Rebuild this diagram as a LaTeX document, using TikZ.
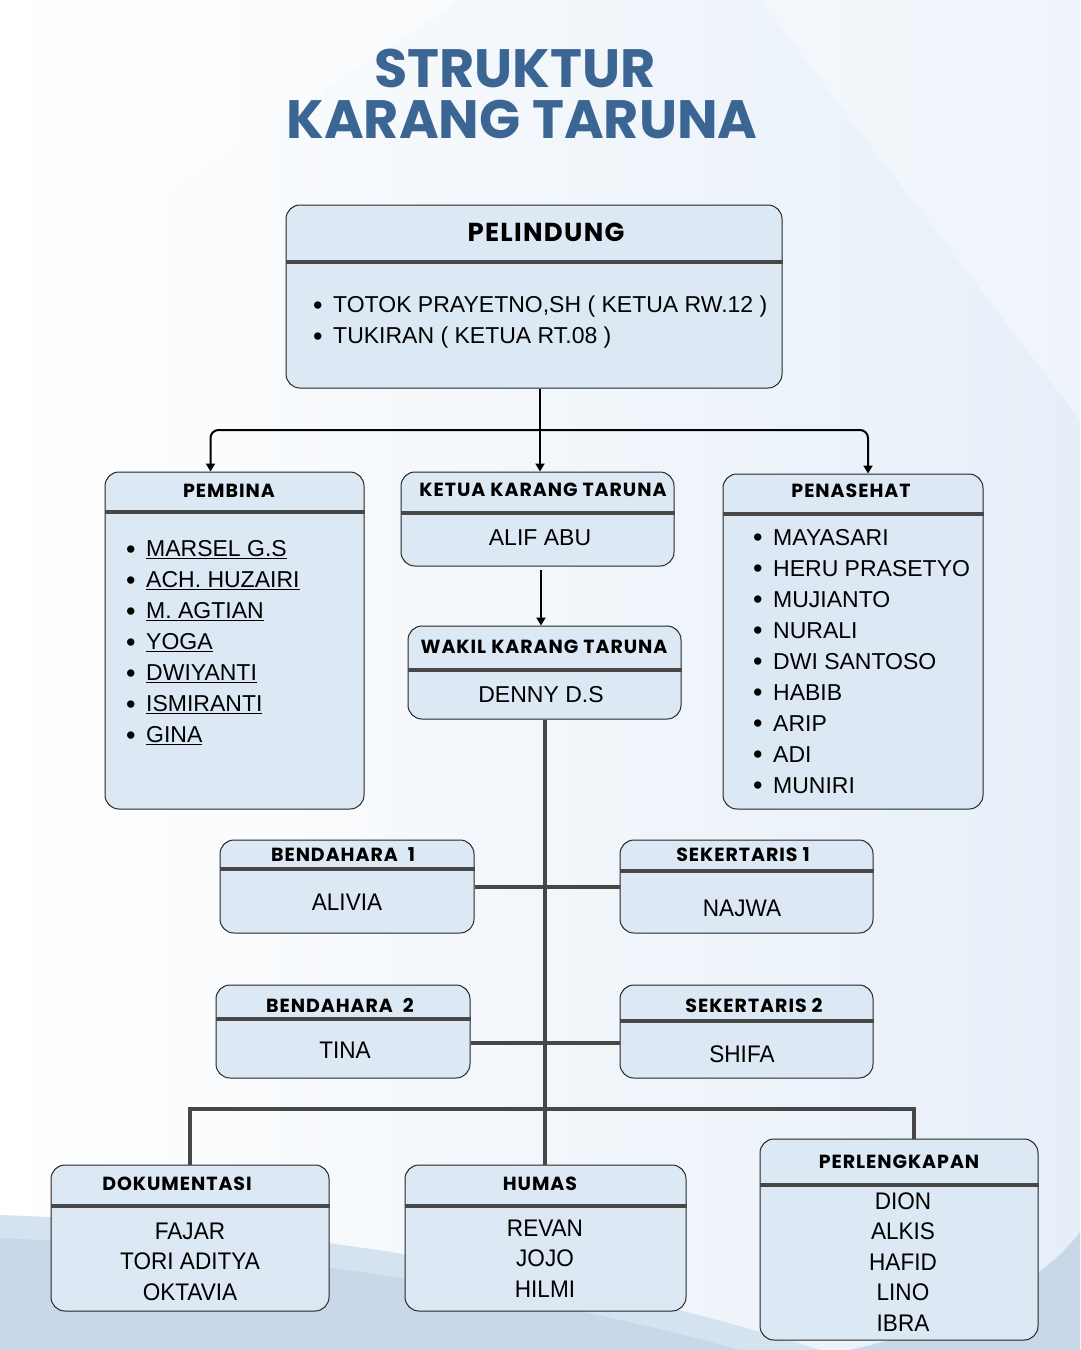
\documentclass[tikz,border=0pt]{standalone}
\usepackage{fontspec}
\setmainfont{Liberation Sans}
\newfontfamily\headfont{Poppins}[LetterSpace=5]
\newfontfamily\titlefont{Poppins}
\newfontfamily\narrowfont{Liberation Sans}[FakeStretch=0.94]
\usetikzlibrary{arrows.meta,positioning,calc}
\definecolor{titleblue}{HTML}{3B6592}
\definecolor{boxfill}{HTML}{DCE8F4}
\definecolor{lineg}{HTML}{474747}
\definecolor{bgblue}{HTML}{E6EFF8}
\definecolor{waveblue}{HTML}{C8D8E8}
\tikzset{
    orgbox/.style={draw=black!85,fill=boxfill,rounded corners=14pt,line width=1pt,inner sep=0pt},
    bigheadtext/.style={font=\headfont\bfseries\fontsize{26}{28}\selectfont,inner sep=0pt},
    headtext/.style={font=\headfont\bfseries\fontsize{19}{21}\selectfont,inner sep=0pt},
    nametext/.style={font=\fontsize{23}{31}\selectfont,inner sep=0pt},
    lownametext/.style={font=\narrowfont\fontsize{24}{30.5}\selectfont,inner sep=0pt,align=center},
    listtext/.style={nametext,align=left,anchor=west},
    sepline/.style={lineg,line width=4pt},
    trunk/.style={lineg,line width=4pt},
    arr/.style={-{Triangle[length=8pt,width=9pt]},line width=2pt},
    titletext/.style={font=\titlefont\bfseries\fontsize{54}{60}\selectfont,text=titleblue,inner sep=0pt},
}
\newcommand{\itm}[1]{\makebox[20pt][l]{\raisebox{-1.6pt}{\fontsize{27}{27}\selectfont\textbullet}}#1}

\begin{document}
\begin{tikzpicture}[x=1pt,y=-1pt]
    \useasboundingbox (0,0) rectangle (1080,1350);
    % background
    \shade[left color=white,right color=bgblue] (0,0) rectangle (1080,1350);
    \fill[white,opacity=.45] (0,0) -- (460,0) -- (0,300) -- cycle;
    \fill[white,opacity=.35] (1080,0) -- (760,0) -- (1080,420) -- cycle;
    \fill[white,opacity=.3] (0,560) -- (380,820) -- (0,1100) -- cycle;
    \fill[waveblue!55!bgblue] (0,1215) .. controls (300,1225) and (600,1280) .. (820,1350) -- (0,1350) -- cycle;
    \fill[waveblue] (0,1238) .. controls (280,1250) and (540,1295) .. (740,1350) -- (0,1350) -- cycle;
    \fill[waveblue] (850,1350) .. controls (960,1325) and (1040,1285) .. (1080,1232) -- (1080,1350) -- cycle;

    % title
    \node[titletext] (title1) at (515,68) {STRUKTUR};
    \node[titletext] (title2) at (522,120) {KARANG TARUNA};

    % boxes
    \node[orgbox,minimum width=496pt,minimum height=183pt] (pelindung) at (534,296.5) {};
    \node[orgbox,minimum width=259pt,minimum height=337pt] (pembina) at (234.5,640.5) {};
    \node[orgbox,minimum width=273pt,minimum height=94pt] (ketua) at (537.5,519) {};
    \node[orgbox,minimum width=260pt,minimum height=335pt] (penasehat) at (853,641.5) {};
    \node[orgbox,minimum width=273pt,minimum height=93pt] (wakil) at (544.5,672.5) {};
    \node[orgbox,minimum width=254pt,minimum height=93pt] (bend1) at (347,886.5) {};
    \node[orgbox,minimum width=253pt,minimum height=93pt] (sek1) at (746.5,886.5) {};
    \node[orgbox,minimum width=254pt,minimum height=93pt] (bend2) at (343,1031.5) {};
    \node[orgbox,minimum width=253pt,minimum height=93pt] (sek2) at (746.5,1031.5) {};
    \node[orgbox,minimum width=278pt,minimum height=146pt] (doku) at (190,1238) {};
    \node[orgbox,minimum width=281pt,minimum height=146pt] (humas) at (545.5,1238) {};
    \node[orgbox,minimum width=278pt,minimum height=201pt] (perl) at (899,1239.5) {};

    % separators
    \foreach \b/\y in {pelindung/262,pembina/512,ketua/513,penasehat/514,wakil/670,
        bend1/869,sek1/871,bend2/1019,sek2/1021,doku/1206,humas/1206,perl/1185}{
        \draw[sepline] (\b.west |- 0,\y) -- (\b.east |- 0,\y);
    }

    % headers
    \node[bigheadtext] (pelindung-t) at (546,232) {PELINDUNG};
    \node[headtext] (pembina-t) at (229,491) {PEMBINA};
    \node[headtext] (ketua-t) at (543,490) {KETUA KARANG TARUNA};
    \node[headtext] (penasehat-t) at (851,491) {PENASEHAT};
    \node[headtext] (wakil-t) at (544,647) {WAKIL KARANG TARUNA};
    \node[headtext] (bend1-t) at (343,855) {BENDAHARA\ \ 1};
    \node[headtext] (sek1-t) at (743,855) {SEKERTARIS 1};
    \node[headtext] (bend2-t) at (340,1005) {BENDAHARA\ \ 2};
    \node[headtext] (sek2-t) at (754,1005) {SEKERTARIS 2};
    \node[headtext] (doku-t) at (177,1184) {DOKUMENTASI};
    \node[headtext] (humas-t) at (540,1184) {HUMAS};
    \node[headtext] (perl-t) at (899,1162) {PERLENGKAPAN};

    % names
    \node[listtext] (pelindung-n) at (313,322.5) {\itm{TOTOK PRAYETNO,SH ( KETUA RW.12 )}\\\itm{TUKIRAN ( KETUA RT.08 )}};
    \node[listtext] (pembina-n) at (126,643) {\itm{\underline{MARSEL G.S}}\\\itm{\underline{ACH. HUZAIRI}}\\
        \itm{\underline{M. AGTIAN}}\\\itm{\underline{YOGA}}\\\itm{\underline{DWIYANTI}}\\
        \itm{\underline{ISMIRANTI}}\\\itm{\underline{GINA}}};
    \node[listtext] (penasehat-n) at (753,662) {\itm{MAYASARI}\\\itm{HERU PRASETYO}\\\itm{MUJIANTO}\\
        \itm{NURALI}\\\itm{DWI SANTOSO}\\\itm{HABIB}\\\itm{ARIP}\\\itm{ADI}\\\itm{MUNIRI}};
    \node[nametext] (ketua-n) at (540,538) {ALIF ABU};
    \node[nametext] (wakil-n) at (541,695) {DENNY D.S};
    \node[lownametext] (bend1-n) at (347,902) {ALIVIA};
    \node[lownametext] (sek1-n) at (742,908) {NAJWA};
    \node[lownametext] (bend2-n) at (345,1050) {TINA};
    \node[lownametext] (sek2-n) at (742,1054) {SHIFA};
    \node[lownametext] (doku-n) at (190,1261.5) {FAJAR\\TORI ADITYA\\OKTAVIA};
    \node[lownametext] (humas-n) at (545,1258.5) {REVAN\\JOJO\\HILMI};
    \node[lownametext] (perl-n) at (903,1262) {DION\\ALKIS\\HAFID\\LINO\\IBRA};

    % connectors
    \coordinate (hub) at (540,430);
    \draw[line width=2pt] (pelindung.south -| hub) -- (hub);
    \draw[arr] (hub) -- (hub |- ketua.north);
    \draw[arr,rounded corners=8pt] (hub) -| ([xshift=-24pt]pembina.north);
    \draw[arr,rounded corners=8pt] (hub) -| ([xshift=15pt]penasehat.north);
    \draw[arr] ([xshift=3.5pt,yshift=-3pt]ketua.south) -- ([xshift=-3.5pt]wakil.north);

    \draw[trunk] (wakil.south) -- (wakil.south |- humas.north);
    \draw[trunk] (bend1.east) -- (sek1.west);
    \draw[trunk] (bend2.east |- 0,1043) -- (sek2.west |- 0,1043);
    \coordinate (split) at (545,1109);
    \draw[trunk] (doku.north) |- (split) -| ([xshift=15pt]perl.north);
\end{tikzpicture}
\end{document}
